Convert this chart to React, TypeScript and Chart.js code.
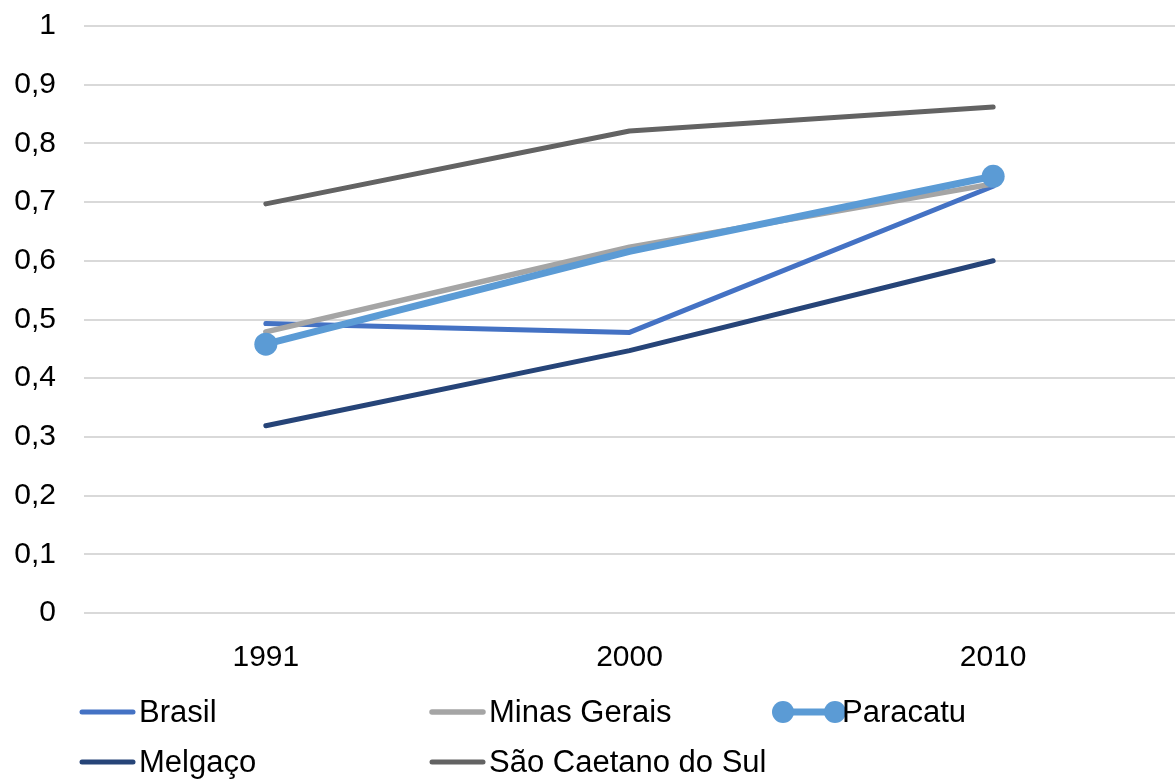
import React, { useEffect, useRef } from "react";
import { Chart, registerables } from "chart.js";

Chart.register(...registerables);

const categories = ["1991", "2000", "2010"];
const brasil = [0.493, 0.478, 0.727];
const minasGerais = [0.479, 0.623, 0.731];
const paracatu = [0.458, 0.616, 0.744];
const melgaco = [0.319, 0.447, 0.6];
const saoCaetano = [0.697, 0.821, 0.862];
const yTickLabels = ["0", "0,1", "0,2", "0,3", "0,4", "0,5", "0,6", "0,7", "0,8", "0,9", "1"];

const FONT = "'Liberation Sans', Arial, sans-serif";

const gridLegend = {
  id: "gridLegend",
  afterDraw(chart: any) {
    const ctx = chart.ctx;
    const ds = chart.data.datasets;
    ctx.save();
    ds.forEach((d: any, i: number) => {
      const col = i % 3;
      const row = Math.floor(i / 3);
      const x0 = 80 + col * 350;
      const y = 712 + row * 50;
      const hasPts = Array.isArray(d.pointRadius) && d.pointRadius.some((r: number) => r > 0);
      const sx0 = hasPts ? x0 + 3 : x0 + 2;
      const sx1 = hasPts ? x0 + 55 : x0 + 53;
      ctx.strokeStyle = d.borderColor;
      ctx.lineWidth = d.borderWidth;
      ctx.lineCap = "round";
      ctx.beginPath();
      ctx.moveTo(sx0, y);
      ctx.lineTo(sx1, y);
      ctx.stroke();
      if (hasPts) {
        ctx.fillStyle = d.pointBackgroundColor;
        [sx0, sx1].forEach((px) => {
          ctx.beginPath();
          ctx.arc(px, y, 11, 0, Math.PI * 2);
          ctx.fill();
        });
      }
      ctx.fillStyle = "#000000";
      ctx.font = `31px ${FONT}`;
      ctx.textAlign = "left";
      ctx.textBaseline = "middle";
      ctx.fillText(d.label, hasPts ? x0 + 62 : x0 + 59, y + 1);
    });
    ctx.restore();
  },
};

export default function App() {
  const ref = useRef<HTMLCanvasElement>(null);
  useEffect(() => {
    if (!ref.current) return;
    const mk = (label: string, data: number[], color: string, width: number, order: number) => ({
      label,
      data,
      borderColor: color,
      backgroundColor: color,
      borderWidth: width,
      borderCapStyle: "round" as const,
      borderJoinStyle: "round" as const,
      pointRadius: 0,
      pointHoverRadius: 0,
      tension: 0,
      order,
    });
    const paracatuDs: any = mk("Paracatu", paracatu, "#5B9BD5", 7, 3);
    paracatuDs.pointRadius = [11.5, 0, 11.5];
    paracatuDs.pointBackgroundColor = "#5B9BD5";
    paracatuDs.pointBorderColor = "#5B9BD5";
    paracatuDs.pointBorderWidth = 0;
    const chart = new Chart(ref.current, {
      type: "line",
      data: {
        labels: categories,
        datasets: [
          mk("Brasil", brasil, "#4472C4", 5, 5),
          mk("Minas Gerais", minasGerais, "#A5A5A5", 5.5, 4),
          paracatuDs,
          mk("Melgaço", melgaco, "#264478", 5, 2),
          mk("São Caetano do Sul", saoCaetano, "#636363", 5, 1),
        ],
      },
      options: {
        animation: false,
        responsive: false,
        layout: { autoPadding: false, padding: { top: 26, right: 0, left: 0, bottom: 0 } },
        plugins: { legend: { display: false }, tooltip: { enabled: false } },
        scales: {
          x: {
            type: "category",
            offset: true,
            grid: { display: false, drawTicks: false },
            border: { display: false },
            ticks: {
              color: "#000000",
              font: { family: FONT, size: 30 },
              padding: 27,
              maxRotation: 0,
            },
            afterFit(scale: any) {
              scale.height = 168;
              scale.paddingLeft = 0;
              scale.paddingRight = 0;
            },
          },
          y: {
            min: 0,
            max: 1,
            grid: { color: "#D9D9D9", lineWidth: 2, drawTicks: false },
            border: { display: false },
            ticks: {
              stepSize: 0.1,
              color: "#000000",
              font: { family: FONT, size: 30 },
              padding: 28,
              callback: (_v: any, idx: number) => yTickLabels[idx],
            },
            afterFit(scale: any) {
              scale.width = 84;
              scale.paddingTop = 0;
              scale.paddingBottom = 0;
            },
          },
        },
      },
      plugins: [gridLegend],
    });
    return () => chart.destroy();
  }, []);
  return (
    <div style={{ position: "fixed", left: 0, top: 0, width: 1175, height: 781, background: "#fff" }}>
      <canvas ref={ref} width={1175} height={781} />
    </div>
  );
}
